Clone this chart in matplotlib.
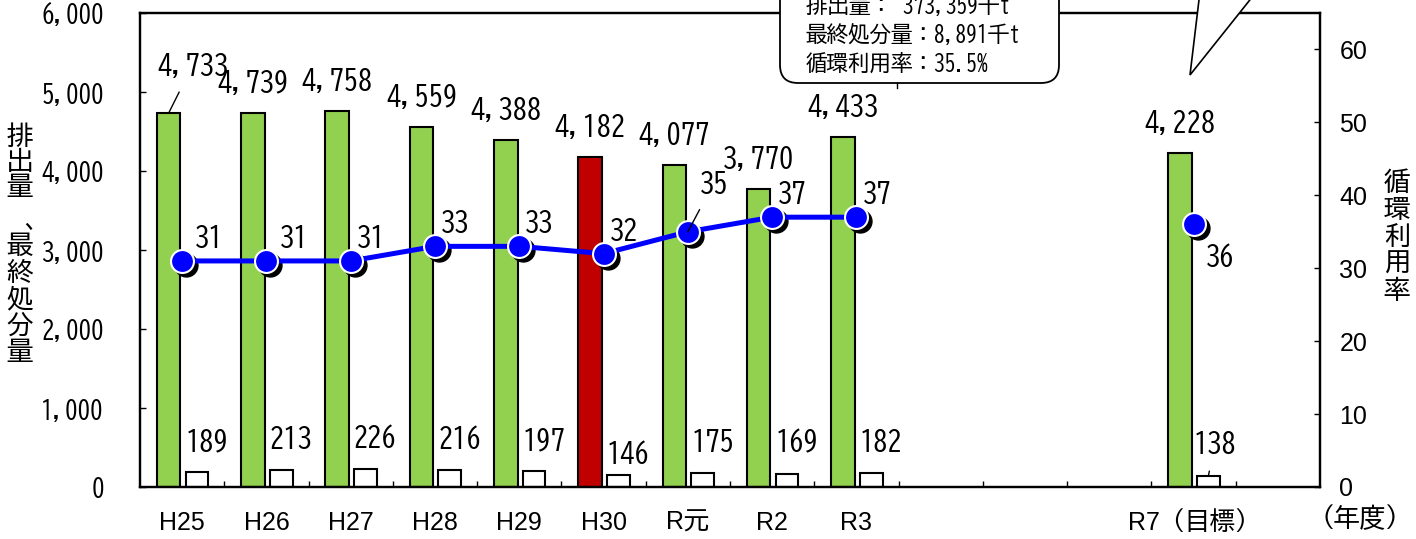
import numpy as np
import matplotlib
matplotlib.use('Agg')
import matplotlib.pyplot as plt
import matplotlib.transforms as mtransforms
from matplotlib.patches import FancyBboxPatch, Polygon
from matplotlib.lines import Line2D
from matplotlib.ticker import FuncFormatter

plt.rcParams['font.family'] = ['BIZ UDGothic', 'Noto Sans CJK JP', 'DejaVu Sans']
latin = ['Liberation Sans', 'BIZ UDGothic', 'Noto Sans CJK JP']

nan = np.nan

# 年度（R4〜R6 と右端は空き枠）
years = ['H25', 'H26', 'H27', 'H28', 'H29', 'H30', 'R元', 'R2', 'R3',
         '', '', '', 'R7（目標）', '']
emission = [4733, 4739, 4758, 4559, 4388, 4182, 4077, 3770, 4433,
            nan, nan, nan, 4228, nan]          # 排出量
final_disposal = [189, 213, 226, 216, 197, 146, 175, 169, 182,
                  nan, nan, nan, 138, nan]     # 最終処分量
recycle_rate = [31, 31, 31, 33, 33, 32, 35, 37, 37,
                nan, nan, nan, 36, nan]        # 循環利用率
rate_ticks = [0, 10, 20, 30, 40, 50, 60]
highlight_year = 'H30'

W, H = 1416, 539
fig = plt.figure(figsize=(W / 100, H / 100), dpi=100)
ax = fig.add_axes([140 / W, 52 / H, 1180 / W, 474 / H])
ax2 = ax.twinx()

x = np.arange(len(years))
green = '#92D050'
red = '#C00000'
bar_colors = [red if y == highlight_year else green for y in years]

ax.bar(x - 0.16, emission, width=0.28, color=bar_colors,
       edgecolor='black', linewidth=1.5, zorder=2)
ax.bar(x + 0.175, final_disposal, width=0.27, color='white',
       edgecolor='black', linewidth=1.5, zorder=2)

ax.set_xlim(-0.5, len(years) - 0.5)
ax.set_ylim(0, 6000)
ax2.set_ylim(0, 65)
ax.set_yticks(np.arange(0, 6001, 1000))
ax2.set_yticks(rate_ticks, labels=[str(t) for t in rate_ticks], fontfamily=latin)
ax.yaxis.set_major_formatter(FuncFormatter(lambda v, p: f'{v:,.0f}'))

ax.set_xticks(x)
ax.set_xticklabels(years, fontfamily=latin)
ax.set_xticks(x[:-1] + 0.5, minor=True)
ax.tick_params(axis='x', which='major', length=0, pad=17, labelsize=18)
ax.tick_params(axis='x', which='minor', direction='in', length=4.5, width=1)
ax.tick_params(axis='y', direction='in', length=4, width=1, pad=26, labelsize=18)
ax2.tick_params(axis='y', direction='in', length=4, width=1, pad=14, labelsize=18)

for a in (ax, ax2):
    for s in a.spines.values():
        s.set_linewidth(1.6)

# bar labels
px = 0.72
fs = 20.5
for i, v in enumerate(emission):
    if np.isnan(v):
        continue
    if i == 0:
        ax.annotate(f'{v:,.0f}', (x[i] - 0.16, v), xytext=(24 * px, 48 * px),
                    textcoords='offset points', ha='center', va='center',
                    fontsize=fs, zorder=6,
                    arrowprops=dict(arrowstyle='-', lw=1, color='black',
                                    shrinkA=9, shrinkB=0))
    else:
        ax.annotate(f'{v:,.0f}', (x[i] - 0.16, v), xytext=(0, 31 * px),
                    textcoords='offset points', ha='center', va='center',
                    fontsize=fs, zorder=6)

for i, v in enumerate(final_disposal):
    if np.isnan(v):
        continue
    if years[i].startswith('R7'):
        ax.annotate(f'{v:.0f}', (x[i] + 0.175, v), xytext=(7 * px, 33 * px),
                    textcoords='offset points', ha='center', va='center',
                    fontsize=fs, zorder=6,
                    arrowprops=dict(arrowstyle='-', lw=1, color='black',
                                    shrinkA=9, shrinkB=0))
    else:
        dy = 22 if years[i] == 'H30' else 32
        ax.annotate(f'{v:.0f}', (x[i] + 0.175 - 0.135, v), xytext=(0, dy * px),
                    textcoords='offset points', ha='left', va='center',
                    fontsize=fs, zorder=6)

# recycling rate line with shadowed markers
shadow = mtransforms.offset_copy(ax2.transData, fig=fig, x=4, y=-4, units='dots')
ax2.plot(x, recycle_rate, color='#0000FF', lw=3.6, zorder=3)
ax2.plot(x, recycle_rate, 'o', color='black', ms=16.5, transform=shadow, zorder=2)
ax2.plot(x, recycle_rate, 'o', color='#0000FF', ms=16.5, mec='white', mew=1.5, zorder=4)

for i, v in enumerate(recycle_rate):
    if np.isnan(v):
        continue
    if years[i] == 'R元':
        ax2.annotate(f'{v:.0f}', (x[i], v), xytext=(26 * px, 49 * px),
                     textcoords='offset points', ha='center', va='center',
                     fontsize=fs, zorder=6,
                     arrowprops=dict(arrowstyle='-', lw=1, color='black',
                                     shrinkA=9, shrinkB=0))
    elif years[i].startswith('R7'):
        ax2.annotate(f'{v:.0f}', (x[i], v), xytext=(27 * px, -32 * px),
                     textcoords='offset points', ha='center', va='center',
                     fontsize=fs, zorder=6)
    else:
        dx = 13 if i < 2 else 6
        ax2.annotate(f'{v:.0f}', (x[i], v), xytext=(dx * px, 24 * px),
                     textcoords='offset points', ha='left', va='center',
                     fontsize=fs, zorder=6)

# axis titles (vertical stacked)
pix = mtransforms.IdentityTransform()
for k, ch in enumerate('排出量'):
    fig.text(20, H - (136 + k * 25), ch, transform=pix, ha='center',
             va='center', fontsize=19)
fig.text(36, H - 219, '、', transform=pix, ha='center', va='center', fontsize=19)
for k, ch in enumerate('最終処分量'):
    fig.text(20, H - (245 + k * 26.5), ch, transform=pix, ha='center',
             va='center', fontsize=19)
for k, ch in enumerate('循環利用率'):
    fig.text(1397, H - (182 + k * 27), ch, transform=pix, ha='center',
             va='center', fontsize=19)
fig.text(1360, H - 517, '（年度）', transform=pix, ha='center', va='center',
         fontsize=18.5)

# callout box (cut off at the top)
box = FancyBboxPatch((780, H - 83), 279, 120,
                     boxstyle='round,pad=0,rounding_size=18',
                     transform=pix, facecolor='white', edgecolor='black',
                     linewidth=1.3, zorder=10)
fig.add_artist(box)
fig.add_artist(Line2D([897, 897], [H - 83, H - 88], transform=pix,
                      color='black', lw=1, zorder=10))
box_lines = ['排出量： 373,359千t', '最終処分量：8,891千t', '循環利用率：35.5%']
for k, t in enumerate(box_lines):
    fig.text(806, H - (5 + k * 29), t, transform=pix, ha='left', va='center',
             fontsize=15.5, zorder=11)

# speech bubble tail at top right
tail = Polygon([(1199.7, H + 6), (1190, H - 75), (1254.6, H + 6)], closed=True,
               transform=pix, facecolor='white', edgecolor='black',
               linewidth=1.2, zorder=10)
fig.add_artist(tail)

fig.savefig('out.png', dpi=100)
